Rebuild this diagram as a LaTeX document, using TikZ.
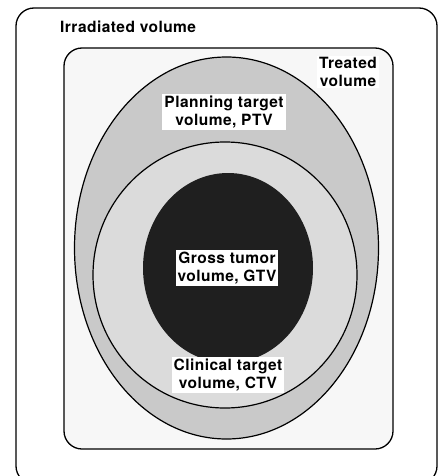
\documentclass[tikz,border=0pt]{standalone}
\usepackage{fontspec}
\setmainfont{TeX Gyre Heros}[LetterSpace=3]
\begin{document}
\begin{tikzpicture}[x=1pt,y=-1pt,
  lbl/.style={fill=white, inner sep=2pt, align=center, font=\fontsize{15.5}{17.5}\selectfont\bfseries},
  frame/.style={draw=black, line width=1.3pt},
  vol/.style={draw=black, line width=1.2pt}]
\useasboundingbox (0,0) rectangle (438,476);
\fill[white] (0,0) rectangle (438,476);
\begin{scope}
\clip (0,0) rectangle (438,476);
\draw[frame, rounded corners=18pt] (16,8) rectangle (437,484);
\end{scope}
\draw[frame, fill=gray!6, rounded corners=18pt] (64,48) rectangle (393,449);
\draw[vol, fill=gray!42] (226.5,248) ellipse [x radius=152, y radius=191];
\draw[vol, fill=gray!28] (225,275) ellipse [x radius=132, y radius=133];
\fill[black!88] (228,268) ellipse [x radius=85, y radius=95];
\node[lbl, anchor=west] (irr) at (58,27) {Irradiated volume};
\node[lbl] (trt) at (348,72) {Treated\\volume};
\node[lbl] (ptv) at (224,112) {Planning target\\volume, PTV};
\node[lbl] (gtv) at (227,268) {Gross tumor\\volume, GTV};
\node[lbl] (ctv) at (228,375) {Clinical target\\volume, CTV};
\end{tikzpicture}
\end{document}
